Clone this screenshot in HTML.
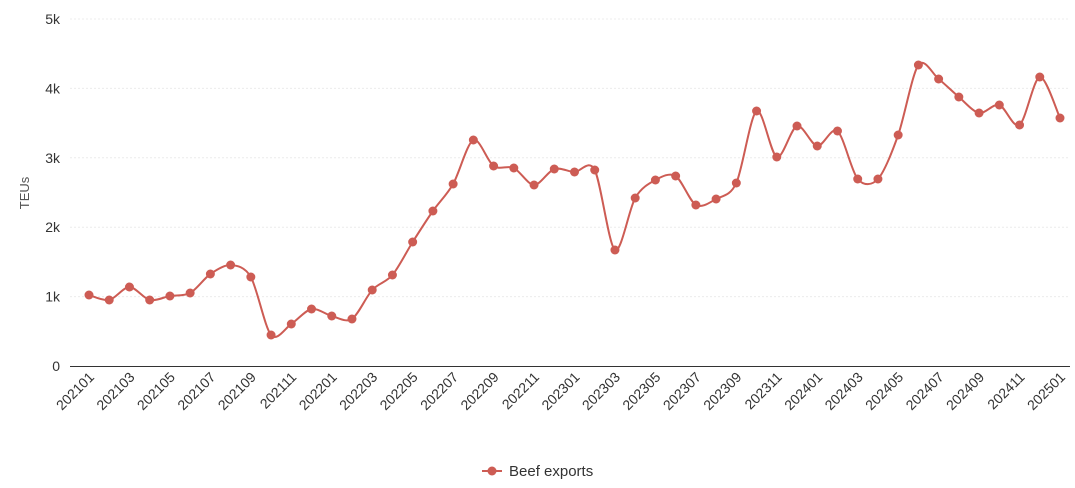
<!DOCTYPE html>
<html><head><meta charset="utf-8"><style>
html,body{margin:0;padding:0;background:#fff;}
svg{display:block;font-family:"Liberation Sans",sans-serif;}
</style></head><body>
<svg id="c" width="1075" height="488" xmlns="http://www.w3.org/2000/svg"></svg>
<script>
const svg=document.getElementById('c');
const ys=[295,300,287,300,296,293,274,265,277,335,324,309,316,319,290,275,242,211,184,140,166,168,185,169,172,170,250,198,180,176,205,199,183,111,157,126,146,131,179,179,135,65,79,97,113,105,125,77,118];
const x0=89,dx=(1060-89)/48;
let h='';
const yl=['0','1k','2k','3k','4k','5k'];
for(let i=0;i<6;i++){const y=366-i*69.4;
 if(i>0)h+=`<line x1="70" x2="1070" y1="${y}" y2="${y}" stroke="#ececec" stroke-dasharray="2,2"/>`;
 h+=`<text x="60" y="${y+5}" text-anchor="end" font-size="14" fill="#333">${yl[i]}</text>`;}
h+=`<line x1="70" x2="1070" y1="366.5" y2="366.5" stroke="#333"/>`;
h+=`<text transform="translate(29,193) rotate(-90)" text-anchor="middle" font-size="13" fill="#555">TEUs</text>`;
for(let i=0;i<49;i+=2){const x=x0+i*dx;const yr=2021+Math.floor(i/12),m=(i%12)+1;
 const t=yr+String(m).padStart(2,'0');
 h+=`<text transform="translate(${x+6},${378}) rotate(-45)" text-anchor="end" font-size="14" fill="#333">${t}</text>`;}
const P=ys.map((y,i)=>[x0+i*dx,y]);
let d=`M${P[0][0]},${P[0][1]}`;
for(let i=0;i<P.length-1;i++){const p0=P[Math.max(0,i-1)],p1=P[i],p2=P[i+1],p3=P[Math.min(P.length-1,i+2)];
 const t=0.3;
 const c1=[p1[0]+(p2[0]-p0[0])*t/2,p1[1]+(p2[1]-p0[1])*t/2];
 const c2=[p2[0]-(p3[0]-p1[0])*t/2,p2[1]-(p3[1]-p1[1])*t/2];
 d+=` C${c1[0]},${c1[1]} ${c2[0]},${c2[1]} ${p2[0]},${p2[1]}`;}
h+=`<path d="${d}" fill="none" stroke="#cd5c54" stroke-width="2"/>`;
P.forEach(p=>h+=`<circle cx="${p[0]}" cy="${p[1]}" r="4.5" fill="#cd5c54"/>`);
h+=`<line x1="482" x2="502" y1="471" y2="471" stroke="#cd5c54" stroke-width="2"/><circle cx="492" cy="471" r="4.5" fill="#cd5c54"/>`;
h+=`<text x="509" y="476" font-size="15" fill="#333">Beef exports</text>`;
svg.innerHTML=h;
</script>
</body></html>
